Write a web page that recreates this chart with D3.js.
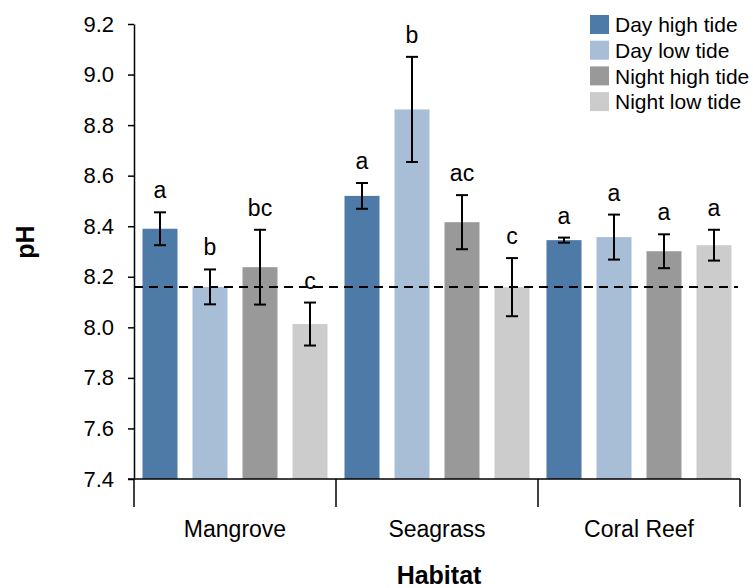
<!DOCTYPE html>
<html><head><meta charset="utf-8">
<script src="https://cdn.jsdelivr.net/npm/d3@7"></script>
<style>
html,body{margin:0;padding:0;background:#fff;}
text{font-family:"Liberation Sans",Arial,sans-serif;fill:#000;}
</style></head>
<body><svg id="chart" width="753" height="588"></svg>
<script>
const habitats = ["Mangrove", "Seagrass", "Coral Reef"];
const seriesNames = ["Day high tide", "Day low tide", "Night high tide", "Night low tide"];
const seriesColors = ["#4e7aa7", "#a8bed6", "#999999", "#cccccc"];
// means per series, ordered by habitat
const dayHigh   = [8.39, 8.52, 8.345];
const dayLow    = [8.16, 8.862, 8.357];
const nightHigh = [8.238, 8.416, 8.301];
const nightLow  = [8.013, 8.159, 8.325];
// error (±)
const errDayHigh   = [0.065, 0.051, 0.01];
const errDayLow    = [0.069, 0.208, 0.089];
const errNightHigh = [0.148, 0.107, 0.067];
const errNightLow  = [0.085, 0.115, 0.061];
// significance letters
const lblDayHigh   = ["a", "a", "a"];
const lblDayLow    = ["b", "b", "a"];
const lblNightHigh = ["bc", "ac", "a"];
const lblNightLow  = ["c", "c", "a"];
const referenceLine = 8.16;
const yTicks = [7.4, 7.6, 7.8, 8.0, 8.2, 8.4, 8.6, 8.8, 9.0, 9.2];
const yDomain = [7.4, 9.2];

const means = [dayHigh, dayLow, nightHigh, nightLow];
const errs = [errDayHigh, errDayLow, errNightHigh, errNightLow];
const lbls = [lblDayHigh, lblDayLow, lblNightHigh, lblNightLow];

const data = [];
habitats.forEach((h, hi) => {
  seriesNames.forEach((s, si) => {
    data.push({habitat: h, series: s, si, mean: means[si][hi], err: errs[si][hi], label: lbls[si][hi]});
  });
});

const svg = d3.select("#chart");
const pLeft = 134, pRight = 740, pTop = 24, pBottom = 479;

const y = d3.scaleLinear().domain(yDomain).range([pBottom, pTop]);
const x0 = d3.scaleBand().domain(habitats).range([pLeft, pRight]).padding(0);
const x1 = d3.scaleBand().domain(seriesNames).range([0, x0.bandwidth()]).paddingInner(0.3).paddingOuter(0.17);
const color = d3.scaleOrdinal().domain(seriesNames).range(seriesColors);

// bars
svg.append("g").selectAll("rect").data(data).join("rect")
  .attr("x", d => x0(d.habitat) + x1(d.series))
  .attr("y", d => y(d.mean))
  .attr("width", x1.bandwidth())
  .attr("height", d => pBottom - y(d.mean))
  .attr("fill", d => color(d.series));

// reference dashed line
svg.append("line")
  .attr("x1", pLeft).attr("x2", pRight - 2)
  .attr("y1", y(referenceLine)).attr("y2", y(referenceLine))
  .attr("stroke", "#000").attr("stroke-width", 2).attr("stroke-dasharray", "9,6");

// error bars
const eb = svg.append("g").attr("stroke", "#000").attr("stroke-width", 2);
data.forEach(d => {
  const cx = x0(d.habitat) + x1(d.series) + x1.bandwidth() / 2;
  const yt = y(d.mean + d.err), yb = y(d.mean - d.err);
  eb.append("line").attr("x1", cx).attr("x2", cx).attr("y1", yt).attr("y2", yb);
  eb.append("line").attr("x1", cx - 6).attr("x2", cx + 6).attr("y1", yt).attr("y2", yt);
  eb.append("line").attr("x1", cx - 6).attr("x2", cx + 6).attr("y1", yb).attr("y2", yb);
});

// letters
svg.append("g").selectAll("text").data(data).join("text")
  .attr("x", d => x0(d.habitat) + x1(d.series) + x1.bandwidth() / 2)
  .attr("y", d => y(d.mean + d.err) - 14)
  .attr("text-anchor", "middle")
  .attr("font-size", 23)
  .text(d => d.label);

// y axis
const yAxis = svg.append("g").attr("transform", `translate(${pLeft},0)`)
  .call(d3.axisLeft(y).tickValues(yTicks).tickFormat(d3.format(".1f")).tickSize(6).tickPadding(14).tickSizeOuter(0));
yAxis.select(".domain").attr("stroke", "#000").attr("stroke-width", 1.5);
yAxis.selectAll(".tick line").attr("stroke", "#000").attr("stroke-width", 1.5);
yAxis.selectAll(".tick text").attr("font-size", 22).attr("font-family", "Liberation Sans, Arial, sans-serif").attr("fill", "#000");

// x axis
const xAxisG = svg.append("g");
xAxisG.append("line").attr("x1", pLeft - 6).attr("x2", pRight).attr("y1", pBottom).attr("y2", pBottom)
  .attr("stroke", "#000").attr("stroke-width", 1.5);
const bounds = habitats.map(h => x0(h)).concat([x0(habitats[habitats.length - 1]) + x0.bandwidth()]);
xAxisG.selectAll("line.sep").data(bounds).join("line").attr("class", "sep")
  .attr("x1", d => d).attr("x2", d => d).attr("y1", pBottom).attr("y2", pBottom + 28)
  .attr("stroke", "#000").attr("stroke-width", 1.5);
xAxisG.selectAll("text").data(habitats).join("text")
  .attr("x", d => x0(d) + x0.bandwidth() / 2)
  .attr("y", 537)
  .attr("text-anchor", "middle").attr("font-size", 23)
  .text(d => d);

// axis titles
svg.append("text").attr("x", 439).attr("y", 584).attr("text-anchor", "middle")
  .attr("font-size", 25).attr("font-weight", "bold").text("Habitat");
svg.append("text").attr("transform", "translate(34,242) rotate(-90)").attr("text-anchor", "middle")
  .attr("font-size", 25).attr("font-weight", "bold").text("pH");

// legend
const lg = svg.append("g").attr("transform", "translate(590,15)");
seriesNames.forEach((s, i) => {
  const row = lg.append("g").attr("transform", `translate(0,${i * 25.7})`);
  row.append("rect").attr("width", 19).attr("height", 19).attr("fill", color(s));
  row.append("text").attr("x", 25).attr("y", 10).attr("dy", "0.35em").attr("font-size", 21).text(s);
});
</script></body></html>
